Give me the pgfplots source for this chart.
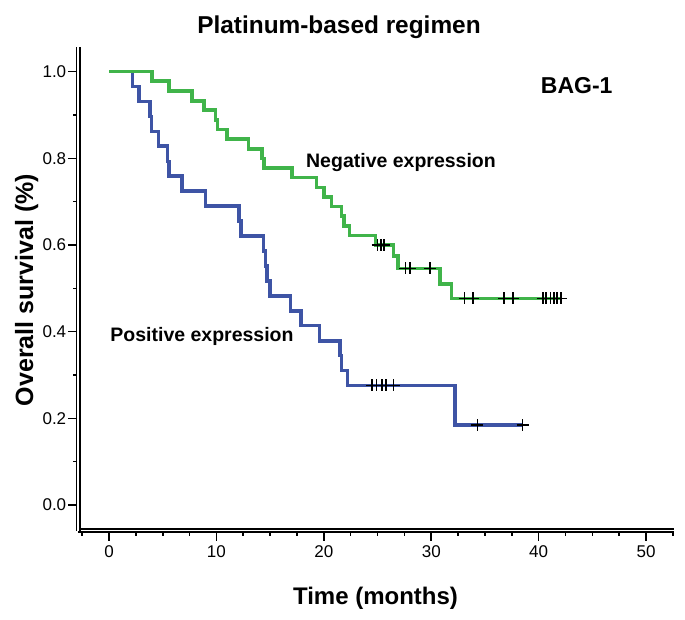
\documentclass[border=0pt]{standalone}
\usepackage{fontspec}
\setmainfont{Liberation Sans}
\usepackage{pgfplots}
\pgfplotsset{compat=1.18}
\definecolor{kmgreen}{RGB}{64,180,74}
\definecolor{kmblue}{RGB}{62,84,165}
\begin{document}
\begin{tikzpicture}[x=1pt,y=1pt]
\useasboundingbox (0,0) rectangle (685,619);
\begin{axis}[
  at={(78.4pt,88.5pt)}, anchor=south west,
  scale only axis, width=595.6pt, height=483.5pt,
  xmin=-2.85, xmax=52.6, ymin=-0.0589, ymax=1.057,
  axis x line*=bottom, axis y line*=left,
  axis line style={-, black, line width=1.4pt, double distance=1.9pt},
  xtick={0,10,20,30,40,50}, xticklabels={0,10,20,30,40,50},
  ytick={0,0.2,0.4,0.6,0.8,1.0}, yticklabels={0.0,0.2,0.4,0.6,0.8,1.0},
  minor xtick={-2.5,0,...,52.5},
  minor ytick={0.1,0.3,0.5,0.7,0.9},
  tick align=outside,
  major tick length=10pt, minor tick length=5pt,
  every tick/.style={black, line width=1.6pt},
  ticklabel style={font=\fontsize{17}{20}\selectfont},
  xticklabel style={inner sep=0pt, yshift=-5pt},
  yticklabel style={inner sep=0pt, xshift=-2pt},
  clip=false,
]
\addplot[kmblue, line width=3.6pt, const plot] coordinates {
(0,1) (2.2,0.966) (2.8,0.931) (3.8,0.897) (3.95,0.862) (4.6,0.828)
(5.45,0.793) (5.6,0.759) (6.8,0.724) (9.0,0.690) (12.1,0.655) (12.3,0.621)
(14.4,0.586) (14.55,0.552) (14.7,0.517) (15.0,0.483) (16.9,0.448)
(17.85,0.414) (19.6,0.379) (21.5,0.345) (21.65,0.310) (22.2,0.276)
(32.2,0.184) (38.5,0.184)
};
\addplot[kmgreen, line width=3.6pt, const plot] coordinates {
(0,1) (4.0,0.978) (5.6,0.956) (7.7,0.933) (8.85,0.911) (9.9,0.889)
(10.1,0.867) (11.0,0.844) (13.0,0.822) (14.25,0.800) (14.45,0.778)
(17.05,0.756) (19.3,0.733) (20.0,0.711) (20.7,0.689) (21.65,0.667)
(21.85,0.644) (22.4,0.622) (24.8,0.600) (26.5,0.574) (26.9,0.546)
(30.8,0.510) (31.9,0.477) (42.1,0.477)
};
\addplot[only marks, mark=+, mark size=6pt, mark options={black, line width=1.6pt}] coordinates {
(24.5,0.276) (24.9,0.276) (25.4,0.276) (25.8,0.276) (26.5,0.276)
(34.3,0.184) (38.5,0.184)
};
\addplot[only marks, mark=+, mark size=6pt, mark options={black, line width=1.6pt}] coordinates {
(25.0,0.600) (25.3,0.600) (25.6,0.600)
(27.6,0.546) (28.0,0.546) (29.9,0.546)
(33.1,0.477) (33.9,0.477) (36.8,0.477) (37.6,0.477)
(40.4,0.477) (40.7,0.477) (41.1,0.477) (41.4,0.477) (41.7,0.477) (42.1,0.477)
};
\end{axis}
\node[anchor=base, inner sep=0pt, font=\fontsize{24.4}{28}\selectfont\bfseries] at (339,585.7) {Platinum-based regimen};
\node[anchor=base, inner sep=0pt, font=\fontsize{23}{27}\selectfont\bfseries] at (576.7,525.7) {BAG-1};
\node[anchor=base, inner sep=0pt, font=\fontsize{19.5}{23}\selectfont\bfseries] at (401,451) {Negative expression};
\node[anchor=base, inner sep=0pt, font=\fontsize{19.5}{23}\selectfont\bfseries] at (202,277.3) {Positive expression};
\node[anchor=base, inner sep=0pt, font=\fontsize{24}{28}\selectfont\bfseries] at (375.5,15) {Time (months)};
\node[anchor=base, rotate=90, inner sep=0pt, font=\fontsize{25}{29}\selectfont\bfseries] at (33,329) {Overall survival (\%)};
\end{tikzpicture}
\end{document}
